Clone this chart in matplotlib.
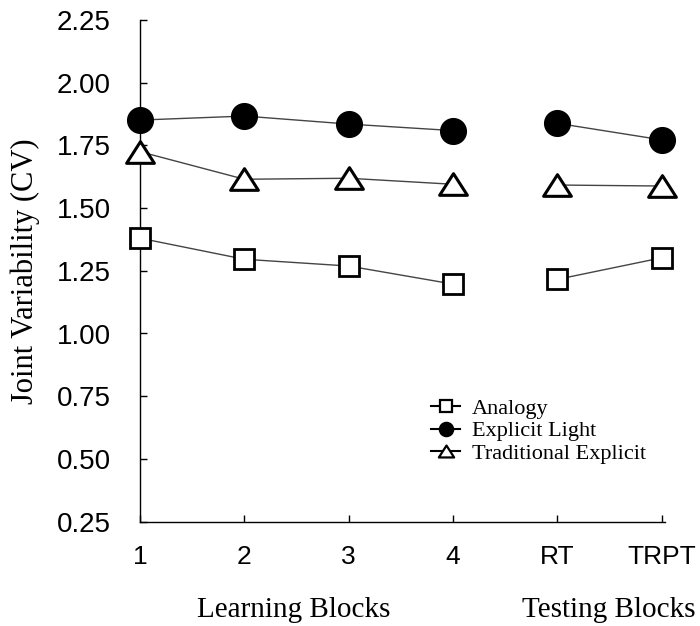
import matplotlib
matplotlib.use("Agg")
import matplotlib.pyplot as plt
from matplotlib.lines import Line2D
from matplotlib.path import Path

# data
blocks = ["1", "2", "3", "4", "RT", "TRPT"]
analogy = [1.380, 1.296, 1.269, 1.197, 1.216, 1.302]
explicit_light = [1.851, 1.867, 1.835, 1.809, 1.838, 1.772]
traditional = [1.725, 1.615, 1.619, 1.595, 1.592, 1.588]

yticks = [0.25, 0.50, 0.75, 1.00, 1.25, 1.50, 1.75, 2.00, 2.25]

# learning blocks and testing blocks are drawn as separate segments
learn = slice(0, 4)
test = slice(4, 6)
xpos = list(range(len(blocks)))

# a slightly flattened triangle, closed so the outline is complete
tri = Path([(-1, -0.78), (1, -0.78), (0, 0.78), (0, 0)],
           [Path.MOVETO, Path.LINETO, Path.LINETO, Path.CLOSEPOLY])
styles = {
    "Analogy": dict(marker="s", ms=14.5, mfc="white", mec="black", mew=2.0),
    "Explicit Light": dict(marker="o", ms=18.5, mfc="black", mec="black", mew=1.0),
    "Traditional Explicit": dict(marker=tri, ms=20, mfc="white", mec="black", mew=2.2),
}
series = {
    "Analogy": analogy,
    "Explicit Light": explicit_light,
    "Traditional Explicit": traditional,
}

serif = "Liberation Serif"
sans = "Liberation Sans"

fig = plt.figure(figsize=(7.0, 6.26), dpi=100)
ax = fig.add_axes([140 / 700, 104.4 / 626, 525 / 700, 501.6 / 626])

for name, vals in series.items():
    st = styles[name]
    for seg in (learn, test):
        ax.plot(xpos[seg], vals[seg], color="#444444", lw=1.0, zorder=2)
        ax.plot(xpos[seg], vals[seg], ls="none", zorder=3, clip_on=False, **st)

ax.set_xlim(0, 5.03)
ax.set_ylim(0.25, 2.25)
ax.set_xticks(xpos)
ax.set_xticklabels(blocks, fontfamily=sans, fontsize=19)
ax.set_yticks(yticks)
ax.set_yticklabels(["%.2f" % v for v in yticks], fontfamily=sans, fontsize=20)
ax.tick_params(axis="y", direction="in", length=5, width=1, pad=21)
ax.tick_params(axis="x", direction="in", length=5, width=1, pad=17)

for s in ("top", "right"):
    ax.spines[s].set_visible(False)
for s in ("left", "bottom"):
    ax.spines[s].set_linewidth(1.0)

ax.set_ylabel("Joint Variability (CV)", fontfamily=serif, fontsize=22, labelpad=12)

fig.text(294 / 700, 1 - 610 / 626, "Learning Blocks", fontfamily=serif,
         fontsize=21, ha="center", va="center")
fig.text(609 / 700, 1 - 610 / 626, "Testing Blocks", fontfamily=serif,
         fontsize=21, ha="center", va="center")

handles = []
for name in series:
    st = dict(styles[name])
    st["ms"] = st["ms"] * 0.55
    st["mew"] = min(st["mew"], 1.6)
    handles.append(Line2D([], [], color="black", lw=1.5, **st))
ax.legend(handles, list(series.keys()), loc="upper left",
          bbox_to_anchor=(420 / 700, 1 - 387 / 626), bbox_transform=fig.transFigure,
          frameon=False, prop={"family": serif, "size": 16},
          handlelength=1.3, handletextpad=0.55, labelspacing=0.1, borderpad=0)

fig.savefig("out.png", dpi=100)
